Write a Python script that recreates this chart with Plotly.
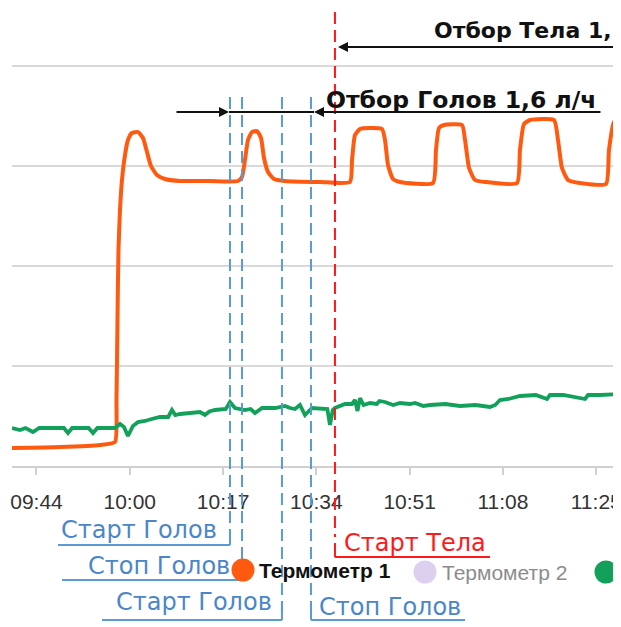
import plotly.graph_objects as go

# ---------------- data ----------------
# time in minutes after 09:00, temperature in degrees
t1_min = [39.54, 48.28, 55.57, 58.30, 58.58, 58.76, 58.94, 59.22, 59.58, 60.13, 60.67, 61.40,
          62.50, 63.41, 64.14, 64.86, 65.96, 67.42, 70.15, 75.62, 80.72, 81.45, 81.99, 82.54,
          83.27, 84.18, 84.91, 85.46, 86.19, 87.28, 89.28, 95.66, 101.13, 101.50, 102.04,
          102.95, 104.77, 106.96, 107.51, 108.05, 108.97, 110.24, 116.25, 116.80, 117.34,
          118.26, 121.54, 122.09, 122.82, 123.91, 125.73, 131.56, 132.10, 132.83, 133.93,
          138.30, 139.03, 139.76, 140.85, 143.04, 147.78, 148.32, 149.24, 150.70]
t1_temp = [23.6, 23.8, 24.2, 24.8, 33.2, 49.2, 63.2, 71.2, 77.2, 82.2, 85.2, 86.6,
           86.8, 85.6, 82.8, 80.0, 78.2, 77.4, 77.0, 77.0, 77.0, 77.8, 81.2, 85.2,
           86.8, 87.0, 85.6, 81.6, 78.8, 77.4, 77.0, 76.8, 76.8, 81.2, 86.2,
           87.4, 87.6, 87.4, 85.2, 80.2, 77.4, 76.8, 76.6, 83.2, 87.6,
           88.2, 88.2, 85.2, 79.6, 77.2, 76.8, 76.6, 83.2, 88.4, 89.2,
           89.2, 85.2, 79.6, 77.2, 76.6, 76.4, 83.2, 88.8, 89.6]

t3_min = [39.54, 40.99, 42.0, 43.36, 44.5, 45.55, 49.0, 49.74, 50.5, 51.93, 53.5, 54.30, 55.1,
          56.48, 58.30, 59.22, 59.94, 60.67, 61.58, 62.50, 63.77, 65.0, 66.50, 68.0, 68.69,
          69.3, 70.15, 72.0, 73.79, 74.70, 75.5, 76.53, 78.5, 79.26, 80.17, 81.99, 83.0,
          83.82, 85.09, 87.5, 89.28, 90.2, 91.10, 92.01, 92.93, 94.20, 95.66, 97.0, 97.48,
          98.0, 98.39, 100.22, 101.5, 102.04, 102.5, 102.95, 103.6, 104.77, 106.0, 106.5,
          107.5, 109.0, 110.24, 112.0, 113.0, 114.5, 115.70, 118.5, 121.17, 124.0, 126.64,
          127.6, 128.46, 130.0, 132.10, 135.0, 137.02, 137.57, 140.0, 143.95, 144.5, 146.68,
          150.51]
t3_temp = [27.6, 27.2, 27.6, 26.8, 27.6, 27.6, 27.6, 26.6, 27.6, 27.6, 27.6, 26.6, 27.6,
           27.6, 27.6, 28.4, 27.8, 26.0, 28.0, 28.8, 29.0, 29.4, 29.8, 29.8, 31.2,
           30.2, 30.4, 30.6, 30.8, 30.2, 30.9, 31.2, 31.4, 32.8, 31.6, 31.2, 31.4,
           30.6, 31.6, 31.6, 32.0, 31.6, 31.4, 32.2, 30.2, 31.6, 31.4, 31.4, 28.2,
           31.2, 31.6, 32.4, 32.4, 33.2, 31.0, 33.6, 32.2, 32.6, 32.4, 33.0,
           32.8, 32.2, 32.6, 32.4, 32.6, 32.0, 32.2, 32.4, 32.0, 32.2, 31.8,
           32.2, 33.2, 33.4, 34.0, 34.2, 33.4, 34.2, 34.2, 33.4, 34.2, 34.2,
           34.4]

tick_vals = [44, 61, 78, 95, 112, 129, 146]
tick_text = ["09:44", "10:00", "10:17", "10:34", "10:51", "11:08", "11:25"]

event_min = [79.26, 81.45, 88.73, 94.02, 98.39]
event_text = ["Старт Голов", "Стоп Голов", "Старт Голов", "Стоп Голов", "Старт Тела"]

series_names = ["Термометр 1", "Термометр 2", "Термометр 3"]
phase_text = ["Отбор Голов 1,6 л/ч", "Отбор Тела 1,"]

# ---------------- layout helpers ----------------
# the page body has an 8px margin, so the figure starts 8px in from the window corner
OFF = 8
W, H = 613, 619
ML, MR, MT = 4, 0, 0
PW = W - ML - MR          # plot spans screen x 12..621
PH = 458                  # plot spans screen y 8..466
MB = H - MT - PH
X_RANGE = [39.54, 150.51]
Y_RANGE = [20, 20 + PH / 5.0]
SX0 = OFF + ML            # screen x of plot left edge
SY1 = OFF + MT + PH       # screen y of the x axis


def px_x(px):
    return X_RANGE[0] + (px - SX0) * (X_RANGE[1] - X_RANGE[0]) / PW


def px_p(px):
    return (px - SX0) / PW


def py_p(py):
    return (SY1 - py) / PH


ORANGE = "#ff5a0f"
GREEN = "#12a05a"
BLUE = "#5b9bd5"
BLUE_TXT = "#4a86c8"
RED = "#ff1a1a"

fig = go.Figure()
fig.add_trace(go.Scatter(x=t1_min, y=t1_temp, mode="lines", name=series_names[0],
                         line=dict(color=ORANGE, width=4, shape="spline", smoothing=0.5),
                         showlegend=False))
fig.add_trace(go.Scatter(x=t3_min, y=t3_temp, mode="lines", name=series_names[2],
                         line=dict(color=GREEN, width=3.8),
                         showlegend=False))

shapes = []
annotations = []

# event lines and bracket labels
ev_cfg = [
    # side, text shift px, text center y, underline y, underline other end px, dashed top y
    ("right", -11, 530, 545, 58, 97),
    ("right", -10, 566, 580, 62, 97),
    ("right", -8, 602, 620, 102, 97),
    ("left", 6, 607, 620, 465, 97),
    ("left", 7, 543, 557, 490, 12),
]
for i, (side, shift, ty, uy, other, top) in enumerate(ev_cfg):
    col = RED if i == 4 else BLUE
    tcol = RED if i == 4 else BLUE_TXT
    bottom = 537 if i == 4 else uy
    shapes.append(dict(type="line", xref="x", yref="paper", x0=event_min[i], x1=event_min[i],
                       y0=py_p(top), y1=py_p(bottom),
                       line=dict(color=col, width=2, dash="12px,6px")))
    shapes.append(dict(type="line", xref="x", yref="paper", x0=event_min[i], x1=event_min[i],
                       y0=py_p(ty), y1=py_p(uy), line=dict(color=col, width=2)))
    shapes.append(dict(type="line", xref="x", yref="paper", x0=event_min[i], x1=px_x(other),
                       y0=py_p(uy), y1=py_p(uy), line=dict(color=col, width=2)))
    annotations.append(dict(text=event_text[i], xref="x", yref="paper", x=event_min[i],
                            xshift=shift, y=py_p(ty), xanchor="right" if side == "right" else "left",
                            yanchor="middle", showarrow=False,
                            font=dict(family="DejaVu Sans", size=24, color=tcol)))

# phase arrows
ARROW = "#111111"
annotations.append(dict(text="", xref="x", yref="paper", x=px_x(338), y=py_p(47),
                        axref="x", ax=px_x(660), ayref="pixel", ay=0, showarrow=True,
                        arrowhead=2, arrowsize=1, arrowwidth=2, arrowcolor=ARROW, standoff=0))
annotations.append(dict(text="", xref="x", yref="paper", x=px_x(229), y=py_p(112),
                        axref="x", ax=px_x(175), ayref="pixel", ay=0, showarrow=True,
                        arrowhead=2, arrowsize=1, arrowwidth=2, arrowcolor=ARROW, standoff=0))
annotations.append(dict(text="", xref="x", yref="paper", x=px_x(314), y=py_p(112),
                        axref="x", ax=px_x(602), ayref="pixel", ay=0, showarrow=True,
                        arrowhead=2, arrowsize=1, arrowwidth=2, arrowcolor=ARROW, standoff=0))
shapes.append(dict(type="line", xref="x", yref="paper", x0=px_x(229), x1=px_x(314),
                   y0=py_p(112), y1=py_p(112), line=dict(color=ARROW, width=2)))
annotations.append(dict(text="<b>" + phase_text[0] + "</b>", xref="x", yref="paper", x=px_x(324),
                        y=py_p(100), xanchor="left", yanchor="middle", showarrow=False,
                        font=dict(family="DejaVu Sans", size=23.5, color="#111111")))
annotations.append(dict(text="<b>" + phase_text[1] + "</b>", xref="x", yref="paper", x=px_x(432),
                        y=py_p(31), xanchor="left", yanchor="middle", showarrow=False,
                        font=dict(family="DejaVu Sans", size=22, color="#111111")))

# legend (drawn manually)
leg = [
    (243, 570, ORANGE, 257, "#111111", True),
    (425, 572, "#ddd0ee", 440, "#8c8c8c", False),
    (606, 572, GREEN, 622, "#8c8c8c", False),
]
for i, (cx, cy, ccol, tx, tcol, bold) in enumerate(leg):
    shapes.append(dict(type="circle", xref="paper", yref="paper", xsizemode="pixel",
                       ysizemode="pixel", xanchor=px_p(cx), yanchor=py_p(cy),
                       x0=-11.5, x1=11.5, y0=-11.5, y1=11.5,
                       fillcolor=ccol, line=dict(width=0)))
    annotations.append(dict(text=("<b>%s</b>" % series_names[i]) if bold else series_names[i],
                            xref="paper", yref="paper", x=px_p(tx), y=py_p(cy),
                            xanchor="left", yanchor="middle", showarrow=False,
                            font=dict(family="Liberation Sans", size=21, color=tcol)))

fig.update_layout(
    width=W, height=H,
    margin=dict(l=ML, r=MR, t=MT, b=MB),
    paper_bgcolor="white", plot_bgcolor="white",
    showlegend=False,
    xaxis=dict(range=X_RANGE, tickvals=tick_vals, ticktext=tick_text, showgrid=False,
               zeroline=False, showline=True, linecolor="#d0d0d0", linewidth=2,
               ticks="outside", ticklen=7, tickwidth=2, tickcolor="#d0d0d0",
               ticklabelstandoff=9, ticklabeloverflow="allow",
               tickfont=dict(family="Liberation Sans", size=21, color="#333333")),
    yaxis=dict(range=Y_RANGE, dtick=20, tick0=20, showgrid=True, gridcolor="#d9d9d9",
               gridwidth=2, zeroline=False, showticklabels=False, showline=False),
    shapes=shapes,
    annotations=annotations,
)

fig.write_html("out.html", config={"displayModeBar": False})
